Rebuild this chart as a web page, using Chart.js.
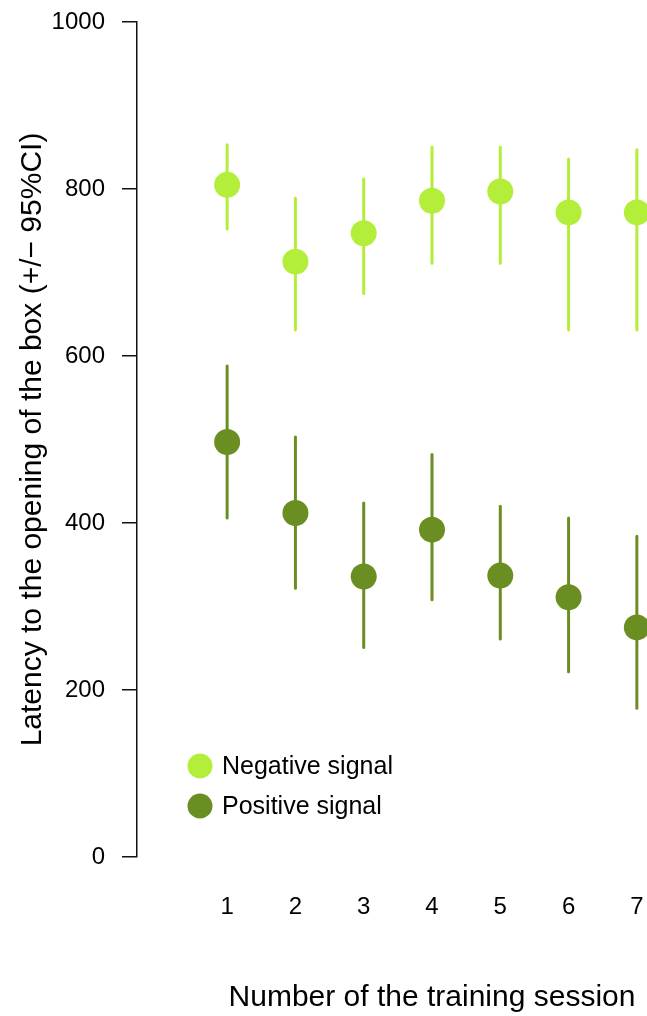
<!DOCTYPE html>
<html>
<head>
<meta charset="utf-8">
<script src="https://cdn.jsdelivr.net/npm/chart.js@4"></script>
<style>
  html, body { margin: 0; padding: 0; background: #fff; overflow: hidden; }
  #wrap { position: relative; width: 740px; height: 1016px; }
</style>
</head>
<body>
<div id="wrap"><canvas id="chart" width="740" height="1016"></canvas></div>
<script>
// --- Data ---
const sessions = [1, 2, 3, 4, 5, 6, 7];
const negMean  = [805, 713, 747, 786, 797, 772, 772];
const negLower = [752, 631, 675, 711, 711, 631, 631];
const negUpper = [853, 789, 812, 850, 850, 836, 847];
const posMean  = [497, 412, 336, 392, 337, 311, 275];
const posLower = [406, 322, 251, 308, 261, 222, 178];
const posUpper = [588, 503, 424, 482, 420, 406, 384];
const yTicks = [0, 200, 400, 600, 800, 1000];

const NEG = "#b3ee3a";
const POS = "#6b8e23";
const FONT = "'Liberation Sans', Arial, Helvetica, sans-serif";

const toPoints = (vals) => sessions.map((s, i) => ({ x: s, y: vals[i] }));

// vertical CI whiskers, drawn under the points
const errorBars = {
  id: "errorBars",
  beforeDatasetsDraw(chart) {
    const { ctx, scales: { x, y } } = chart;
    ctx.save();
    ctx.lineWidth = 3;
    ctx.lineCap = "round";
    chart.data.datasets.forEach((ds) => {
      ctx.strokeStyle = ds.backgroundColor;
      sessions.forEach((s, i) => {
        const px = x.getPixelForValue(s);
        ctx.beginPath();
        ctx.moveTo(px, y.getPixelForValue(ds.lower[i]));
        ctx.lineTo(px, y.getPixelForValue(ds.upper[i]));
        ctx.stroke();
      });
    });
    ctx.restore();
  },
};

// legend in the lower left of the plot
const cornerLegend = {
  id: "cornerLegend",
  afterDraw(chart) {
    const { ctx, chartArea } = chart;
    ctx.save();
    ctx.font = "25px " + FONT;
    ctx.textBaseline = "middle";
    ctx.textAlign = "left";
    chart.data.datasets.forEach((ds, i) => {
      const cy = chartArea.bottom - 91 + i * 40;
      const cx = chartArea.left + 63;
      ctx.fillStyle = ds.backgroundColor;
      ctx.beginPath();
      ctx.arc(cx, cy, 12.5, 0, Math.PI * 2);
      ctx.fill();
      ctx.fillStyle = "#000";
      ctx.fillText(ds.label, cx + 22, cy + 1);
    });
    ctx.restore();
  },
};

new Chart(document.getElementById("chart"), {
  type: "scatter",
  data: {
    datasets: [
      {
        label: "Negative signal",
        data: toPoints(negMean),
        lower: negLower,
        upper: negUpper,
        backgroundColor: NEG,
        borderWidth: 0,
        pointRadius: 13,
        pointHoverRadius: 13,
      },
      {
        label: "Positive signal",
        data: toPoints(posMean),
        lower: posLower,
        upper: posUpper,
        backgroundColor: POS,
        borderWidth: 0,
        pointRadius: 13,
        pointHoverRadius: 13,
      },
    ],
  },
  options: {
    responsive: false,
    animation: false,
    layout: { padding: { top: 22, right: 12, left: 0, bottom: 0 } },
    plugins: {
      legend: { display: false },
      tooltip: { enabled: false },
    },
    scales: {
      x: {
        type: "linear",
        min: -0.32,
        max: 8.32,
        grid: { display: false, drawTicks: false },
        border: { display: false },
        afterBuildTicks: (scale) => {
          scale.ticks = sessions.map((v) => ({ value: v }));
        },
        afterFit: (scale) => {
          scale.height = 159;
          scale.paddingLeft = 0;
          scale.paddingRight = 0;
        },
        ticks: {
          color: "#000",
          font: { family: FONT, size: 24 },
          padding: 36,
          maxRotation: 0,
          autoSkip: false,
          callback: (v) => String(v),
        },
        title: {
          display: true,
          text: "Number of the training session",
          color: "#000",
          font: { family: FONT, size: 30 },
          padding: { top: 0, bottom: 0 },
        },
      },
      y: {
        min: 0,
        max: 1000,
        afterBuildTicks: (scale) => {
          scale.ticks = yTicks.map((v) => ({ value: v }));
        },
        afterFit: (scale) => {
          scale.width = 137;
          scale.paddingTop = 0;
          scale.paddingBottom = 0;
        },
        grid: {
          drawOnChartArea: false,
          drawTicks: true,
          tickLength: 15,
          color: "#111",
          lineWidth: 1.5,
        },
        border: { display: true, color: "#111", width: 1.5 },
        ticks: {
          color: "#000",
          font: { family: FONT, size: 24 },
          padding: 17,
          callback: (v) => String(v),
        },
        title: {
          display: true,
          text: "Latency to the opening of the box (+/\u2212 95%CI)",
          color: "#000",
          font: { family: FONT, size: 30 },
          padding: { top: 15, bottom: 0 },
        },
      },
    },
  },
  plugins: [errorBars, cornerLegend],
});
</script>
</body>
</html>
